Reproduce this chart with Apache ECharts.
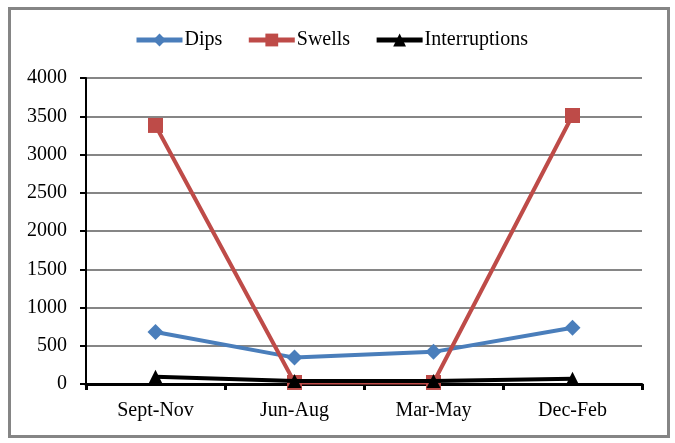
<!DOCTYPE html>
<html><head><meta charset="utf-8">
<script src="https://cdn.jsdelivr.net/npm/echarts@6/dist/echarts.min.js"></script>
<style>html,body{margin:0;padding:0;background:#fff}#c{width:675px;height:443px}</style>
</head><body><div id="c"></div>
<script>
const categories = ['Sept-Nov', 'Jun-Aug', 'Mar-May', 'Dec-Feb'];
const dips = [680, 345, 420, 735];
const swells = [3380, 20, 20, 3510];
const interruptions = [95, 40, 40, 70];
const yTicks = [0, 500, 1000, 1500, 2000, 2500, 3000, 3500, 4000];

const font = 'Liberation Serif';
const chart = echarts.init(document.getElementById('c'));
chart.setOption({
  animation: false,
  backgroundColor: '#fff',
  graphic: [{
    type: 'rect', left: 7, top: 6, shape: { width: 659, height: 428 },
    style: { fill: 'none', stroke: '#858585', lineWidth: 3 }, z: -1
  }],
  legend: {
    top: 25, left: 129, itemWidth: 46, itemHeight: 16, itemGap: 24,
    lineStyle: { width: 5 },
    textStyle: { fontFamily: font, fontSize: 20, color: '#000', padding: [0, 0, 0, -3] },
    data: ['Dips', 'Swells', 'Interruptions']
  },
  grid: { left: 86, top: 78, width: 556, height: 306, containLabel: false },
  xAxis: {
    type: 'category', data: categories, boundaryGap: true,
    axisLine: { lineStyle: { color: '#000', width: 3 } },
    axisTick: { show: true, length: 6, lineStyle: { color: '#000', width: 3 } },
    axisLabel: { fontFamily: font, fontSize: 20, color: '#000', margin: 17 }
  },
  yAxis: {
    type: 'value', min: yTicks[0], max: yTicks[yTicks.length - 1], interval: 500,
    axisLine: { show: true, lineStyle: { color: '#000', width: 2 } },
    axisTick: { show: true, length: 6, lineStyle: { color: '#000', width: 2 } },
    axisLabel: { fontFamily: font, fontSize: 20, color: '#000', margin: 19,
      formatter: v => String(v) },
    splitLine: { lineStyle: { color: '#868686', width: 2 } }
  },
  series: [
    { name: 'Dips', type: 'line', data: dips, symbol: 'diamond', symbolSize: 16,
      itemStyle: { color: '#4A7EBB' }, lineStyle: { color: '#4A7EBB', width: 4 }, z: 3 },
    { name: 'Swells', type: 'line', data: swells, symbol: 'rect', symbolSize: 15,
      itemStyle: { color: '#BE4B48' }, lineStyle: { color: '#BE4B48', width: 4 }, z: 4 },
    { name: 'Interruptions', type: 'line', data: interruptions, symbol: 'triangle', symbolSize: 14,
      itemStyle: { color: '#000' }, lineStyle: { color: '#000', width: 4 }, z: 5 }
  ]
});
</script></body></html>
